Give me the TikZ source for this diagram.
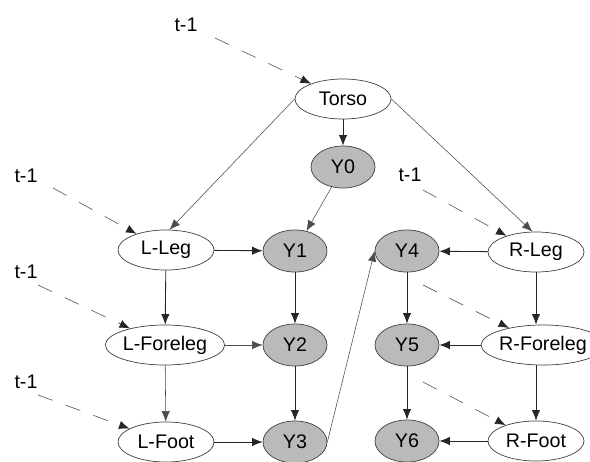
\documentclass[tikz,border=0pt]{standalone}
\usepackage{fontspec}
\setmainfont{Liberation Sans}
\usetikzlibrary{shapes.geometric,arrows.meta}
\begin{document}
\begin{tikzpicture}
  [x=0.025cm,y=-0.025cm,
   part/.style={ellipse,draw=black!75,line width=0.5pt,fill=white,inner sep=0pt,
     minimum width=2.4cm,minimum height=1cm,font=\fontsize{14}{16}\selectfont},
   obs/.style={part,fill=black!27,minimum width=1.6cm,minimum height=1.05cm},
   wide/.style={minimum width=2.8cm},
   lbl/.style={font=\fontsize{14}{16}\selectfont,inner sep=0pt},
   edge/.style={-{Latex[length=7.5pt,width=6pt]},black!85,line width=0.6pt},
   link/.style={edge,line width=0.4pt,black!70},
   prev/.style={-{Latex[length=7.5pt,width=6pt,color=black!85]},black!60,line width=0.5pt,
     dash pattern=on 11pt off 10pt}]

  \useasboundingbox (0,0) rectangle (590,461);

  % hidden parts
  \node [part] (T) at (343,99) {Torso};
  \node [part] (LL) at (166,250) {L-Leg};
  \node [part,wide] (LF) at (165,345) {L-Foreleg};
  \node [part] (LT) at (166,442) {L-Foot};
  \node [part] (RL) at (536,252) {R-Leg};
  \node [part,wide] (RF) at (543,345) {R-Foreleg};
  \node [part] (RT) at (536,441) {R-Foot};

  % observations
  \node [obs] (Y0) at (343,167) {Y0};
  \node [obs] (Y1) at (295,251) {Y1};
  \node [obs] (Y2) at (295,345) {Y2};
  \node [obs] (Y3) at (295,442) {Y3};
  \node [obs] (Y4) at (407,251) {Y4};
  \node [obs] (Y5) at (407,345) {Y5};
  \node [obs] (Y6) at (407,441) {Y6};

  % previous time slice
  \node [lbl] (tT) at (186,25) {t-1};
  \node [lbl] (tLL) at (26,176) {t-1};
  \node [lbl] (tLF) at (26,272) {t-1};
  \node [lbl] (tLT) at (26,382) {t-1};
  \node [lbl] (tRL) at (410,175) {t-1};
  \coordinate (pT) at (215,38);
  \coordinate (pLL) at (53,188);
  \coordinate (pLF) at (38,285);
  \coordinate (pLT) at (38,395);
  \coordinate (pRL) at (423,190);
  \coordinate (pRF) at (423,285);
  \coordinate (pRT) at (423,382);

  \draw [prev] (pT) -- (T);
  \draw [prev] (pLL) -- (LL);
  \draw [prev] (pLF) -- (LF);
  \draw [prev] (pLT) -- (LT);
  \draw [prev] (pRL) -- (RL);
  \draw [prev] (pRF) -- (RF);
  \draw [prev] (pRT) -- (RT);

  \draw [link] (T.west) -- (LL.80);
  \draw [link] (T.east) -- (RL.100);
  \draw [edge] (T) -- (Y0);
  \draw [link] (Y0) -- (Y1);
  \draw [edge] (LL) -- (Y1);
  \draw [edge] (LL) -- (LF);
  \draw [link] (LF) -- (Y2);
  \draw [link] (LF) -- (LT);
  \draw [edge] (LT) -- (Y3);
  \draw [edge] (Y1) -- (Y2);
  \draw [edge] (Y2) -- (Y3);
  \draw [link] (Y3.east) -- (Y4.west);
  \draw [edge] (RL) -- (Y4);
  \draw [edge] (RL.south) -- (RL.south |- RF.north);
  \draw [edge] (RF) -- (Y5);
  \draw [edge] (RL.south |- RF.south) -- (RT.north);
  \draw [edge] (RT) -- (Y6);
  \draw [edge] (Y4) -- (Y5);
  \draw [edge] (Y5) -- (Y6);
\end{tikzpicture}
\end{document}
